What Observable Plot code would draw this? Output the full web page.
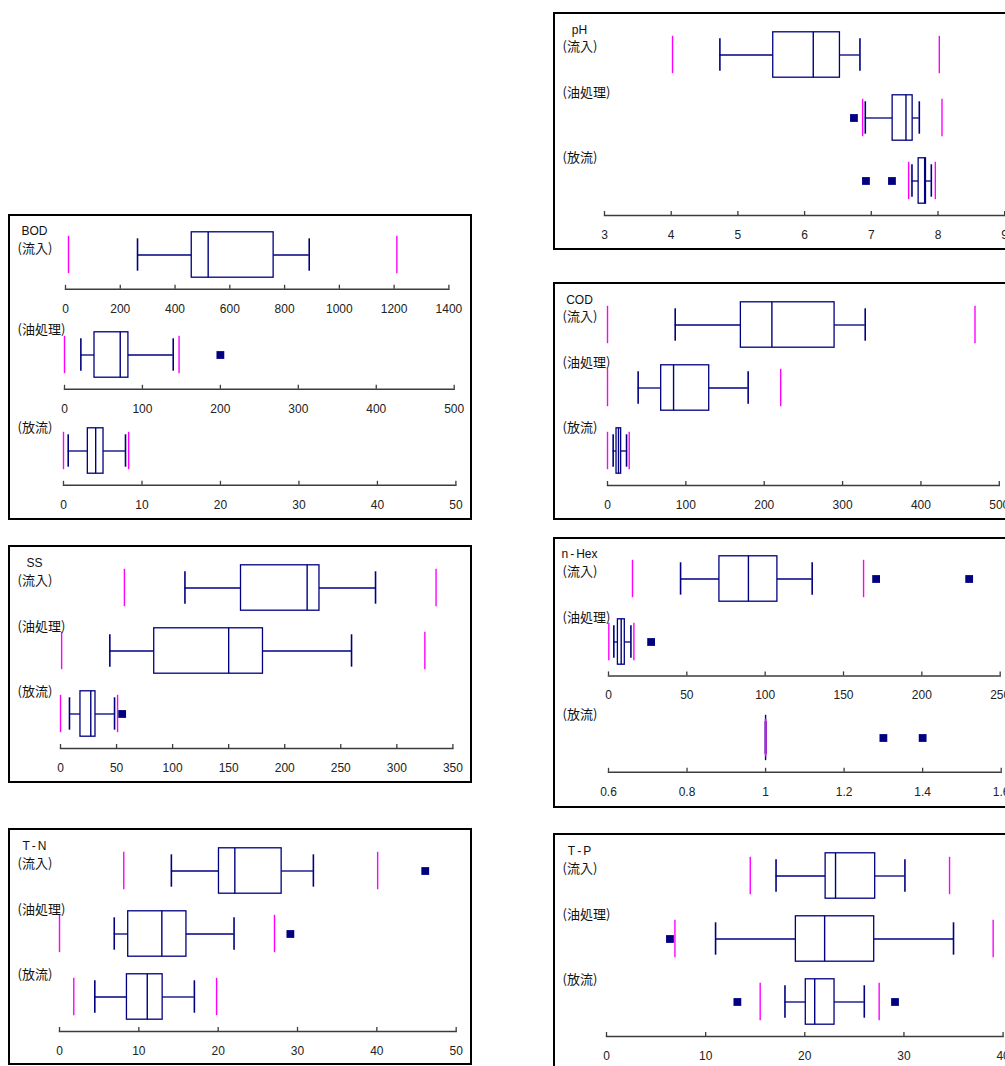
<!DOCTYPE html>
<html lang="ja">
<head>
<meta charset="utf-8">
<script src="https://cdn.jsdelivr.net/npm/d3@7"></script>
<script src="https://cdn.jsdelivr.net/npm/@observablehq/plot@0.6"></script>
<style>
html,body{margin:0;padding:0;background:#fff;overflow:hidden;}
#page{position:relative;width:1005px;height:1066px;overflow:hidden;background:#fff;}
.panel{position:absolute;border:2px solid #000;box-sizing:border-box;background:#fff;}
.chart{position:absolute;}
.stage{position:absolute;font-family:"Noto Sans CJK JP","Noto Sans CJK SC",sans-serif;font-size:13px;color:#111;white-space:nowrap;line-height:1;transform:translateY(-50%);}
.pname{position:absolute;font-family:"Liberation Sans",Arial,sans-serif;font-size:12px;color:#111;white-space:nowrap;line-height:1;transform:translate(-50%,-50%);}
.hy{margin:0 2px;}
</style>
</head>
<body>
<div id="page"></div>
<script>
// ---------- data ----------
const stages = ["流入", "油処理", "放流"];

// BOD
const bodWhiskerLow  = [263, 21, 0.6];
const bodQ1          = [461, 38.5, 3.1];
const bodMedian      = [521, 71.5, 4.1];
const bodQ3          = [760, 82, 5.1];
const bodWhiskerHigh = [890, 139.5, 7.9];
const bodLimitLow    = [11, 0, 0];
const bodLimitHigh   = [1210, 147, 8.3];
const bodOutliers    = [[], [200], []];
const bodTicksInflow = [0, 200, 400, 600, 800, 1000, 1200, 1400];
const bodTicksOil    = [0, 100, 200, 300, 400, 500];
const bodTicksOut    = [0, 10, 20, 30, 40, 50];

// SS
const ssWhiskerLow  = [111, 44, 8];
const ssQ1          = [161, 83.6, 17.8];
const ssMedian      = [220, 150, 27];
const ssQ3          = [231, 180.6, 31.2];
const ssWhiskerHigh = [281, 259.6, 48.2];
const ssLimitLow    = [57, 1, 0];
const ssLimitHigh   = [335, 325, 50.9];
const ssOutliers    = [[], [], [55]];
const ssTicks       = [0, 50, 100, 150, 200, 250, 300, 350];

// T-N
const tnWhiskerLow  = [14.1, 6.9, 4.45];
const tnQ1          = [20.1, 8.66, 8.5];
const tnMedian      = [22.1, 12.9, 11.06];
const tnQ3          = [28, 16, 13];
const tnWhiskerHigh = [32, 22, 17];
const tnLimitLow    = [8.1, 0, 1.8];
const tnLimitHigh   = [40.1, 27.1, 19.8];
const tnOutliers    = [[46.1], [29.1], []];
const tnTicks       = [0, 10, 20, 30, 40, 50];

// pH
const phWhiskerLow  = [4.73, 6.91, 7.61];
const phQ1          = [5.53, 7.32, 7.71];
const phMedian      = [6.13, 7.52, 7.8];
const phQ3          = [6.53, 7.62, 7.82];
const phWhiskerHigh = [6.83, 7.72, 7.9];
const phLimitLow    = [4.02, 6.87, 7.56];
const phLimitHigh   = [8.02, 8.06, 7.96];
const phOutliers    = [[], [6.74], [6.92, 7.31]];
const phTicks       = [3, 4, 5, 6, 7, 8, 9];

// COD
const codWhiskerLow  = [86.4, 39.1, 7.2];
const codQ1          = [170.2, 68.5, 11.5];
const codMedian      = [209.8, 84.3, 14];
const codQ3          = [289.8, 129.8, 17.4];
const codWhiskerHigh = [328.9, 179.5, 24.3];
const codLimitLow    = [0, 0, 0];
const codLimitHigh   = [469, 221, 27.7];
const codOutliers    = [[], [], []];
const codTicks       = [0, 100, 200, 300, 400, 500];

// n-Hex
const hexWhiskerLow  = [46, 3.4, 1];
const hexQ1          = [70.8, 6.0, 1];
const hexMedian      = [89.3, 8.1, 1];
const hexQ3          = [107.8, 10.4, 1];
const hexWhiskerHigh = [130, 14.3, 1];
const hexLimitLow    = [15.3, 0.2, 1];
const hexLimitHigh   = [162.8, 16.2, 1];
const hexOutliers    = [[170.8, 230.2], [27.2], [1.3, 1.4]];
const hexTicks       = [0, 50, 100, 150, 200, 250];
const hexTicksOut    = [0.6, 0.8, 1, 1.2, 1.4, 1.6];

// T-P
const tpWhiskerLow  = [17.1, 11.0, 18.0];
const tpQ1          = [22.1, 19.1, 20.1];
const tpMedian      = [23.1, 22.0, 21.0];
const tpQ3          = [27.1, 27.0, 23.0];
const tpWhiskerHigh = [30.1, 35.0, 26.0];
const tpLimitLow    = [14.5, 6.9, 15.5];
const tpLimitHigh   = [34.6, 39.0, 27.5];
const tpOutliers    = [[], [6.4], [13.2, 29.1]];
const tpTicks       = [0, 10, 20, 30, 40];

// ---------- tables built from the arrays ----------
const series = {
  "BOD":   {low: bodWhiskerLow, q1: bodQ1, med: bodMedian, q3: bodQ3, high: bodWhiskerHigh, limLo: bodLimitLow, limHi: bodLimitHigh, out: bodOutliers},
  "SS":    {low: ssWhiskerLow, q1: ssQ1, med: ssMedian, q3: ssQ3, high: ssWhiskerHigh, limLo: ssLimitLow, limHi: ssLimitHigh, out: ssOutliers},
  "T-N":   {low: tnWhiskerLow, q1: tnQ1, med: tnMedian, q3: tnQ3, high: tnWhiskerHigh, limLo: tnLimitLow, limHi: tnLimitHigh, out: tnOutliers},
  "pH":    {low: phWhiskerLow, q1: phQ1, med: phMedian, q3: phQ3, high: phWhiskerHigh, limLo: phLimitLow, limHi: phLimitHigh, out: phOutliers},
  "COD":   {low: codWhiskerLow, q1: codQ1, med: codMedian, q3: codQ3, high: codWhiskerHigh, limLo: codLimitLow, limHi: codLimitHigh, out: codOutliers},
  "n-Hex": {low: hexWhiskerLow, q1: hexQ1, med: hexMedian, q3: hexQ3, high: hexWhiskerHigh, limLo: hexLimitLow, limHi: hexLimitHigh, out: hexOutliers},
  "T-P":   {low: tpWhiskerLow, q1: tpQ1, med: tpMedian, q3: tpQ3, high: tpWhiskerHigh, limLo: tpLimitLow, limHi: tpLimitHigh, out: tpOutliers}
};

// ---------- layout (page pixels) ----------
const panels = [
  {param: "BOD",   left: 8,   top: 214,   width: 464, height: 306},
  {param: "SS",    left: 8,   top: 545,   width: 464, height: 238},
  {param: "T-N",   left: 8,   top: 828,   width: 464, height: 237},
  {param: "pH",    left: 553, top: 11.5,  width: 464, height: 238},
  {param: "COD",   left: 553, top: 281.5, width: 464, height: 238},
  {param: "n-Hex", left: 553, top: 536.5, width: 464, height: 271},
  {param: "T-P",   left: 553, top: 833,   width: 464, height: 240}
];
const groups = [
  {param: "BOD",   rows: [0],       ticks: bodTicksInflow, x0: 65.3,  x1: 448.7,  axisY: 289},
  {param: "BOD",   rows: [1],       ticks: bodTicksOil,    x0: 64.3,  x1: 454,    axisY: 388.3},
  {param: "BOD",   rows: [2],       ticks: bodTicksOut,    x0: 63.3,  x1: 455.7,  axisY: 484.3},
  {param: "SS",    rows: [0, 1, 2], ticks: ssTicks,        x0: 60.3,  x1: 452.7,  axisY: 748.3},
  {param: "T-N",   rows: [0, 1, 2], ticks: tnTicks,        x0: 59,    x1: 455.7,  axisY: 1031.3},
  {param: "pH",    rows: [0, 1, 2], ticks: phTicks,        x0: 604.3, x1: 1004.5, axisY: 214.7},
  {param: "COD",   rows: [0, 1, 2], ticks: codTicks,       x0: 606.7, x1: 998.5,  axisY: 484.7},
  {param: "n-Hex", rows: [0, 1],    ticks: hexTicks,       x0: 608.3, x1: 1000,   axisY: 675.7},
  {param: "n-Hex", rows: [2],       ticks: hexTicksOut,    x0: 608.3, x1: 1001,   axisY: 771.3},
  {param: "T-P",   rows: [0, 1, 2], ticks: tpTicks,        x0: 605.7, x1: 1002.3, axisY: 1036.3}
];

const navy = "#000080", magenta = "#ff00ff", axisColor = "#3c3c3c";
const STEP = 63.6, MT = 6, MB = 30, ML = 24, MR = 24, GAP = 2.2;
const LABEL_OFFSET = [8.5, 26, 24.5];
const page = document.getElementById("page");

// panels
for (const p of panels) {
  const d = document.createElement("div");
  d.className = "panel";
  Object.assign(d.style, {left: p.left + "px", top: p.top + "px", width: p.width + "px", height: p.height + "px"});
  page.appendChild(d);
}

// charts
const rowCenters = {};
for (const g of groups) {
  const s = series[g.param];
  const n = g.rows.length;
  const W = (g.x1 - g.x0) + ML + MR;
  const H = MT + n * STEP + GAP + MB;
  const data = g.rows.map(i => ({stage: stages[i], low: s.low[i], q1: s.q1[i], med: s.med[i], q3: s.q3[i], high: s.high[i]}));
  const lims = g.rows.flatMap(i => [{stage: stages[i], v: s.limLo[i]}, {stage: stages[i], v: s.limHi[i]}]);
  const outs = g.rows.flatMap(i => s.out[i].map(v => ({stage: stages[i], v})));
  const chart = Plot.plot({
    width: W, height: H,
    marginLeft: ML, marginRight: MR, marginTop: MT, marginBottom: MB,
    x: {domain: [g.ticks[0], g.ticks[g.ticks.length - 1]]},
    y: {domain: g.rows.map(i => stages[i]), range: [MT, MT + n * STEP], padding: 0, axis: null},
    style: {fontFamily: "'Liberation Sans', Arial, sans-serif", fontSize: "12px", background: "transparent", overflow: "visible", color: "#222"},
    marks: [
      Plot.frame({anchor: "bottom", stroke: axisColor, strokeWidth: 1.5}),
      Plot.axisX({ticks: g.ticks, tickSize: -4, tickPadding: 19, tickFormat: d => String(d), stroke: axisColor, strokeWidth: 1.3, fill: "#222", fontSize: 12}),
      Plot.ruleY(data, {y: "stage", x1: "low", x2: "q1", stroke: navy, strokeWidth: 1.3}),
      Plot.ruleY(data, {y: "stage", x1: "q3", x2: "high", stroke: navy, strokeWidth: 1.3}),
      Plot.tickX(data, {x: "low", y: "stage", stroke: navy, strokeWidth: 1.6, insetTop: 15.3, insetBottom: 15.3}),
      Plot.tickX(data, {x: "high", y: "stage", stroke: navy, strokeWidth: 1.6, insetTop: 15.3, insetBottom: 15.3}),
      Plot.barX(data, {x1: "q1", x2: "q3", y: "stage", fill: "white", stroke: navy, strokeWidth: 1.3, insetTop: 8.8, insetBottom: 8.8}),
      Plot.tickX(data, {x: "med", y: "stage", stroke: navy, strokeWidth: 1.4, insetTop: 8.8, insetBottom: 8.8}),
      Plot.tickX(lims, {x: "v", y: "stage", stroke: magenta, strokeWidth: 1.4, insetTop: 12.8, insetBottom: 12.8}),
      Plot.dot(outs, {x: "v", y: "stage", symbol: "square", fill: navy, stroke: null, r: 4.4})
    ]
  });
  const top = g.axisY - (MT + n * STEP + GAP);
  chart.classList.add("chart");
  chart.style.left = (g.x0 - ML) + "px";
  chart.style.top = top + "px";
  page.appendChild(chart);
  g.rows.forEach((i, k) => { rowCenters[g.param + "|" + i] = top + MT + (k + 0.5) * STEP; });
}

// labels
for (const p of panels) {
  for (let i = 0; i < stages.length; i++) {
    const cy = rowCenters[p.param + "|" + i] - LABEL_OFFSET[i];
    const d = document.createElement("div");
    d.className = "stage";
    d.textContent = "(" + stages[i] + ")";
    d.style.left = (p.left + 9.5) + "px";
    d.style.top = cy + "px";
    page.appendChild(d);
    if (i === 0) {
      const t = document.createElement("div");
      t.className = "pname";
      t.style.left = (p.left + 26.5) + "px";
      t.style.top = (cy - 15.5) + "px";
      const parts = p.param.split("-");
      parts.forEach((part, j) => {
        if (j > 0) {
          const h = document.createElement("span");
          h.className = "hy";
          h.textContent = "-";
          t.appendChild(h);
        }
        t.appendChild(document.createTextNode(part));
      });
      page.appendChild(t);
    }
  }
}
</script>
</body>
</html>
